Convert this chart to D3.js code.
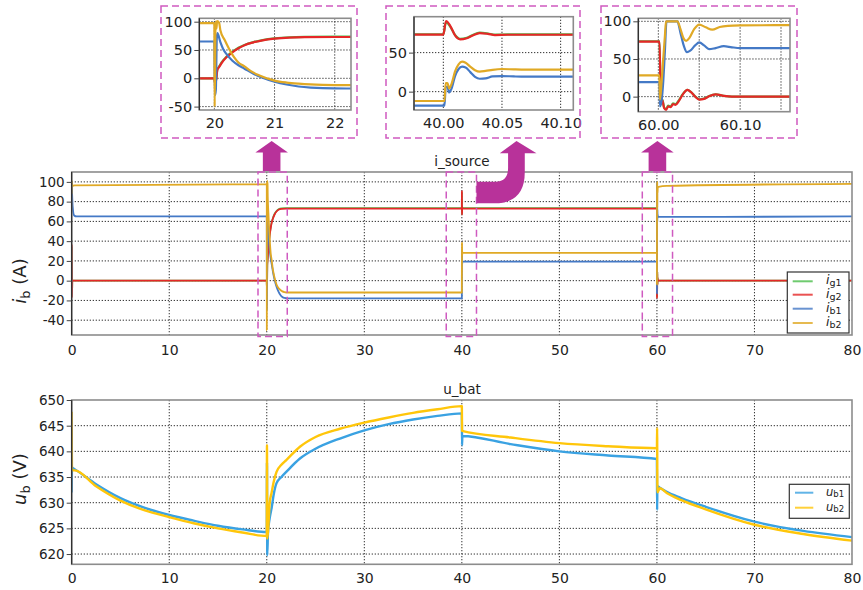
<!DOCTYPE html>
<html><head><meta charset="utf-8">
<script src="https://cdn.jsdelivr.net/npm/d3@7"></script>
<style>
body{margin:0;background:#fff;}
svg{display:block;font-family:"DejaVu Sans",Verdana,sans-serif;}
</style></head><body>
<svg id="c" width="863" height="590"></svg>
<script>
// ---------- measured series: [time (s), value] ----------
const ig1 = [[0,0],[0.01,35],[0.03,-15],[0.06,0],[20,0],[20.01,-6],[20.03,-2],[20.05,16],[20.08,21],[20.12,28],[20.2,38],[20.3,47],[20.4,54],[20.5,59],[20.65,64],[20.8,67.5],[21,70.5],[21.25,72.5],[21.5,73.2],[22,73.5],[40,73.5],[40.0023,89],[40.006,83],[40.01,72.5],[40.0143,67.5],[40.02,69],[40.025,72.5],[40.031,75.5],[40.038,74.5],[40.044,73],[40.055,73.4],[60,73.5],[60.0015,73.5],[60.003,-9],[60.005,-4],[60.007,-14],[60.0095,-16.5],[60.012,-12],[60.015,-13],[60.018,-9],[60.021,-10],[60.025,-5],[60.03,3.5],[60.0355,9],[60.04,6],[60.045,0.5],[60.05,-3.5],[60.056,-2.5],[60.062,0.8],[60.07,3],[60.08,1],[60.09,0],[80,0]];
const ig2 = [[0,0],[0.01,37],[0.03,-17],[0.06,0],[20,0],[20.01,-8],[20.03,-3],[20.05,15],[20.08,20],[20.12,27],[20.2,37],[20.3,46],[20.4,53],[20.5,58.5],[20.65,63.5],[20.8,67],[21,70],[21.25,72],[21.5,72.7],[22,73],[40,73],[40.0023,90.5],[40.006,84],[40.01,72],[40.0143,67],[40.02,68.5],[40.025,72],[40.031,75],[40.038,74],[40.044,72.5],[40.055,72.9],[60,73],[60.0015,73],[60.003,-10],[60.005,-5],[60.007,-15],[60.0095,-17.5],[60.012,-13],[60.015,-14],[60.018,-10],[60.021,-11],[60.025,-6],[60.03,3],[60.0355,8.9],[60.04,6],[60.045,0],[60.05,-4],[60.056,-3],[60.062,0.5],[60.07,3],[60.08,1],[60.09,0],[80,0]];
const ib1 = [[0,100],[0.1,75],[0.25,66],[0.5,65],[20,65],[20.01,-30],[20.025,-20],[20.04,70],[20.05,80],[20.1,64],[20.15,51],[20.2,43],[20.3,31],[20.4,23],[20.5,17],[20.65,8],[20.8,1],[21,-6],[21.2,-11],[21.4,-14.5],[21.6,-16.5],[21.8,-17.5],[22.2,-18],[40,-18],[40.001,-18],[40.002,6],[40.0035,6],[40.005,-1],[40.007,4],[40.01,20],[40.013,29],[40.016,32],[40.019,31],[40.023,25],[40.027,19],[40.031,16.5],[40.036,17],[40.042,19.5],[40.05,20],[40.06,19.5],[40.07,19.2],[60,19.2],[60.0012,19.2],[60.002,-13],[60.004,-5],[60.006,20],[60.008,60],[60.01,100],[60.0233,100],[60.027,85],[60.031,68],[60.035,59],[60.039,61],[60.045,68],[60.05,72],[60.056,68],[60.062,63],[60.07,64.5],[60.08,67],[60.09,65.5],[60.1,64.5],[60.2,64.5],[80,65]];
const ib2 = [[0,88],[0.02,101],[0.06,96],[0.3,96.5],[20,97.5],[20.005,-50],[20.02,100],[20.035,88],[20.045,101],[20.08,98],[20.1,85],[20.17,68],[20.25,51],[20.33,37],[20.4,28],[20.5,21],[20.6,13],[20.75,5],[21,-4],[21.2,-7.5],[21.4,-9.5],[21.6,-10.8],[21.8,-11.5],[22.2,-12],[40,-12],[40.001,-12],[40.002,11],[40.0035,11],[40.005,4.3],[40.007,10],[40.01,26],[40.013,35],[40.016,38.5],[40.019,37],[40.023,32],[40.027,27.5],[40.031,25.6],[40.036,26.5],[40.042,28],[40.05,29],[40.06,28.5],[40.07,28.2],[60,28.2],[60.0012,28.2],[60.002,-4],[60.004,20],[60.006,50],[60.008,80],[60.0094,100],[60.0233,100],[60.027,90],[60.031,77],[60.034,74],[60.038,78],[60.044,90],[60.05,95.7],[60.058,92],[60.066,89],[60.075,92.5],[60.085,94],[60.1,94.5],[60.16,95],[61,96],[80,98]];
const ub1 = [[0,632],[0.03,636.8],[0.3,636.5],[2.5,633.6],[5,630.9],[7.5,629],[10,627.6],[12.5,626.5],[15,625.5],[17.5,624.8],[20,624.3],[20.02,637.8],[20.05,619.8],[20.12,624],[20.3,627],[20.5,629],[20.7,631.5],[21,633.8],[21.5,635],[22,636],[23.4,638.6],[25,640.5],[27.5,642.5],[30,644.1],[32.5,645.3],[35,646.2],[37.5,646.9],[40,647.4],[40.02,641.2],[40.05,643],[45,641.4],[50,640],[55,639.2],[60,638.5],[60.02,628.6],[60.05,633.2],[60.3,632.9],[61,632.1],[62.5,630.9],[65,629.2],[70,626.3],[75,624.5],[80,623.3]];
const ub2 = [[0,647.7],[0.03,636.3],[0.3,636.3],[2.5,633.2],[5,630.4],[7.5,628.5],[10,627.2],[12.5,626],[15,625],[17.5,624.2],[20,623.5],[20.02,641.2],[20.05,623],[20.15,625],[20.3,630],[20.5,632],[20.7,634],[21,636],[21.5,637.4],[22,638.3],[23.4,640.9],[25,642.8],[27.5,644.4],[30,645.6],[32.5,646.6],[35,647.5],[37.5,648.2],[40,648.8],[40.02,644],[45,642.7],[50,641.6],[55,641],[60,640.6],[60.02,644.5],[60.05,632],[60.3,632.8],[61,631.9],[62.5,630.5],[65,628.7],[70,625.7],[75,623.9],[80,622.6]];

// ---------- ticks ----------
const timeTicks = [0,10,20,30,40,50,60,70,80];
const curTicks = [-40,-20,0,20,40,60,80,100];
const volTicks = [620,625,630,635,640,645,650];
const zoom1X = [20,21,22], zoom1Y = [-50,0,50,100];
const zoom2X = [40.00,40.05,40.10], zoom2Y = [0,50];
const zoom3XLab = [60.00,60.10], zoom3XGrid = [60.00,60.05,60.10,60.15], zoom3Y = [0,50,100];

// ---------- legend labels ----------
const curNames = [["i","g1"],["i","g2"],["i","b1"],["i","b2"]];
const volNames = [["u","b1"],["u","b2"]];

const curColors = ["#4cbf4c","#e52727","#4479c6","#e0a925"];
const volColors = ["#3aa2e2","#ffc60a"];

const svg = d3.select("#c");
let clipN = 0;

function panel(o){
  const x = d3.scaleLinear().domain(o.xd).range([o.x0,o.x1]);
  const y = d3.scaleLinear().domain(o.yd).range([o.y1,o.y0]);
  const g = svg.append("g");
  g.append("rect").attr("x",o.x0).attr("y",o.y0).attr("width",o.x1-o.x0).attr("height",o.y1-o.y0).attr("fill","#fff");
  const grid = g.append("g").attr("stroke","#333").attr("stroke-width",1).attr("stroke-dasharray","1.3,1.7");
  grid.selectAll("line.v").data(o.xGrid).join("line").attr("class","v")
    .attr("x1",d=>x(d)).attr("x2",d=>x(d)).attr("y1",o.y0).attr("y2",o.y1);
  grid.selectAll("line.h").data(o.yGrid).join("line").attr("class","h")
    .attr("x1",o.x0).attr("x2",o.x1).attr("y1",d=>y(d)).attr("y2",d=>y(d));
  const cid = "clip"+(clipN++);
  svg.append("clipPath").attr("id",cid).append("rect")
    .attr("x",o.x0).attr("y",o.y0).attr("width",o.x1-o.x0).attr("height",o.y1-o.y0);
  const lg = g.append("g").attr("clip-path",`url(#${cid})`);
  const line = d3.line().x(d=>x(d[0])).y(d=>y(d[1])).curve(d3.curveMonotoneX);
  o.series.forEach((s,i)=>{
    const pts = s.filter((d,j)=> (d[0]>=o.xd[0]-1 && d[0]<=o.xd[1]+1) ||
       (s[j+1] && s[j+1][0]>=o.xd[0]) && d[0]<=o.xd[1] || (s[j-1] && s[j-1][0]<=o.xd[1] && d[0]>=o.xd[0]));
    lg.append("path").datum(pts).attr("fill","none").attr("stroke",o.colors[i])
      .attr("stroke-width",o.lw).attr("stroke-linejoin","round").attr("d",line);
  });
  // frame
  g.append("rect").attr("x",o.x0).attr("y",o.y0).attr("width",o.x1-o.x0).attr("height",o.y1-o.y0)
    .attr("fill","none").attr("stroke","#8c8c8c").attr("stroke-width",1.6);
  g.append("line").attr("x1",o.x0).attr("x2",o.x0).attr("y1",o.y0).attr("y2",o.y1).attr("stroke","#222").attr("stroke-width",1.1);
  // axes
  const ay = g.append("g").attr("transform",`translate(${o.x0},0)`)
    .call(d3.axisLeft(y).tickValues(o.yTicks).tickSize(5).tickPadding(2).tickFormat(d=>String(d)));
  const ax = g.append("g").attr("transform",`translate(0,${o.y1})`)
    .call(d3.axisBottom(x).tickValues(o.xTicks).tickSize(0).tickPadding(o.xpad).tickFormat(o.xFmt||(d=>String(d))));
  [ax,ay].forEach(a=>{
    a.select(".domain").remove();
    a.selectAll("text").attr("fill","#222").attr("font-family","DejaVu Sans, Verdana, sans-serif");
    a.selectAll("line").attr("stroke","#444");
  });
  ax.selectAll("text").attr("font-size",o.fsx);
  ay.selectAll("text").attr("font-size",o.fsy);
  return {x,y,g};
}

// ---------- main current chart ----------
const P1 = panel({x0:71.7,x1:852,y0:172,y1:335,xd:[0,80],yd:[-55,110],
  xTicks:timeTicks,yTicks:curTicks,xGrid:[10,20,30,40,50,60,70],yGrid:curTicks,
  series:[ig1,ig2,ib1,ib2],colors:curColors,lw:1.8,fsx:14,fsy:13.5,xpad:10});

// ---------- battery voltage chart ----------
const P2 = panel({x0:71.7,x1:852,y0:400,y1:564.3,xd:[0,80],yd:[618,650],
  xTicks:timeTicks,yTicks:volTicks,xGrid:[10,20,30,40,50,60,70],yGrid:[620,625,630,635,640,645],
  series:[ub1,ub2],colors:volColors,lw:2.4,fsx:14,fsy:13.5,xpad:9});

// ---------- zoomed views ----------
panel({x0:199.3,x1:351,y0:18.3,y1:110,xd:[19.75,22.27],yd:[-56,106],
  xTicks:zoom1X,yTicks:zoom1Y,xGrid:zoom1X,yGrid:zoom1Y,
  series:[ig1,ig2,ib1,ib2],colors:curColors,lw:2.2,fsx:14.5,fsy:14.5,xpad:8});
panel({x0:414,x1:573.3,y0:16.7,y1:110,xd:[39.975,40.1108],yd:[-23.5,96],
  xTicks:zoom2X,yTicks:zoom2Y,xGrid:zoom2X,yGrid:zoom2Y,xFmt:d3.format(".2f"),
  series:[ig1,ig2,ib1,ib2],colors:curColors,lw:2.2,fsx:14.5,fsy:14.5,xpad:8});
panel({x0:638.3,x1:790,y0:18.3,y1:111.7,xd:[59.9755,60.161],yd:[-20,104],
  xTicks:zoom3XLab,yTicks:zoom3Y,xGrid:zoom3XGrid,yGrid:zoom3Y,xFmt:d3.format(".2f"),
  series:[ig1,ig2,ib1,ib2],colors:curColors,lw:2.2,fsx:14.5,fsy:14.5,xpad:8});

// ---------- titles & axis labels ----------
svg.append("text").attr("x",462).attr("y",165.5).attr("text-anchor","middle").attr("font-size",13.5).attr("fill","#222").text("i_source");
svg.append("text").attr("x",462).attr("y",394).attr("text-anchor","middle").attr("font-size",13.5).attr("fill","#222").text("u_bat");

function ylab(cx,cy,sym,sub,unit){
  const t = svg.append("text").attr("transform",`translate(${cx},${cy}) rotate(-90)`)
    .attr("text-anchor","middle").attr("font-size",18).attr("fill","#222");
  t.append("tspan").attr("font-style","italic").text(sym);
  t.append("tspan").attr("font-size",13).attr("dy",4).text(sub);
  t.append("tspan").attr("dy",-4).text(" "+unit);
}
ylab(26,281,"i","b","(A)");
ylab(26,479,"u","b","(V)");

// ---------- legends ----------
function legend(bx,by,bw,bh,rowY,names,colors,lx0,lx1,tx,fsMain,fsSub,subDy){
  svg.append("rect").attr("x",bx).attr("y",by).attr("width",bw).attr("height",bh)
    .attr("fill","#fff").attr("stroke","#333").attr("stroke-width",1.2);
  names.forEach((n,i)=>{
    svg.append("line").attr("x1",lx0).attr("x2",lx1).attr("y1",rowY[i]).attr("y2",rowY[i])
      .attr("stroke",colors[i]).attr("stroke-width",2).attr("opacity",0.8);
    const t = svg.append("text").attr("x",tx).attr("y",rowY[i]+3).attr("font-size",fsMain).attr("fill","#222");
    t.append("tspan").attr("font-style","italic").text(n[0]);
    t.append("tspan").attr("font-size",fsSub).attr("dy",subDy).text(n[1]);
  });
}
legend(787.3,272,61.7,61,[281.3,294.7,308.7,323],curNames,curColors,792.7,812.7,826,12.5,9.5,2);
legend(789.3,484.3,60,34,[492.7,507.7],volNames,volColors,795,813.3,826,11.5,8.5,1.5);

// ---------- zoom markers ----------
const mag = "#cf5ac0", arrowC = "#b8329a";
const zoneRanges = [[19.1,22.1],[38.4,41.5],[58.5,61.6]];
const xm = P1.x;
zoneRanges.forEach(r=>{
  svg.append("rect").attr("x",xm(r[0])).attr("y",172).attr("width",xm(r[1])-xm(r[0])).attr("height",164.5)
    .attr("fill","none").attr("stroke",mag).attr("stroke-width",1.5).attr("stroke-dasharray","7,4");
});
// frames around zoomed views
[[161,6,196,132],[386,6,194,132],[601,6,196,132]].forEach(b=>{
  svg.append("rect").attr("x",b[0]).attr("y",b[1]).attr("width",b[2]).attr("height",b[3])
    .attr("fill","none").attr("stroke",mag).attr("stroke-width",1.5).attr("stroke-dasharray","7,4");
});
// straight arrows
function upArrow(cx){
  const p = `M${cx-8.8},171 L${cx-8.8},152.5 L${cx-16.3},152.5 L${cx},141 L${cx+16.3},152.5 L${cx+8.8},152.5 L${cx+8.8},171 Z`;
  svg.append("path").attr("d",p).attr("fill",arrowC);
}
upArrow(xm(20.5));
upArrow(xm(60.05));
// bent arrow from the 40 s zone
{
  const a = xm(41.5);
  const p = `M${a},181.7 L${a+19},181.7 Q${a+31.6},181.7 ${a+31.6},168 L${a+31.6},153.3 L${a+23.3},153.3 L${a+40},141 L${a+60},153.3 L${a+48.3},153.3 L${a+48.3},172 Q${a+48.3},203.3 ${a+18},203.3 L${a},203.3 Z`;
  svg.append("path").attr("d",p).attr("fill",arrowC);
}
</script>
</body></html>
